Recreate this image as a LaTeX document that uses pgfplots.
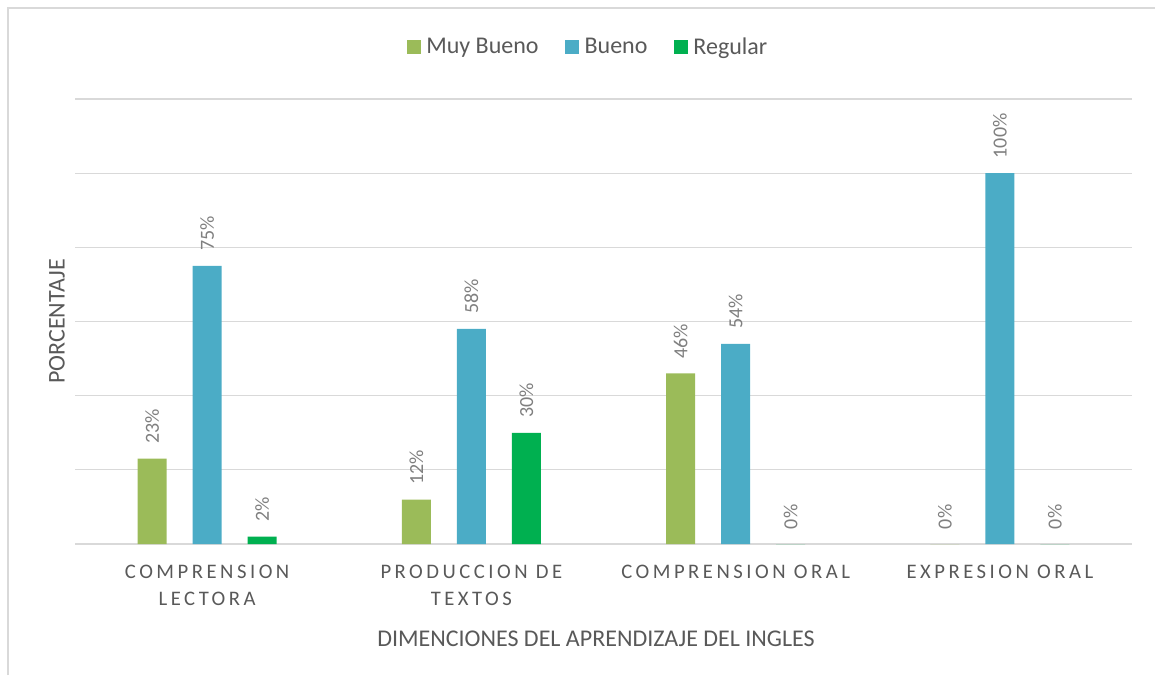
\documentclass[border=0pt]{standalone}
\usepackage{fontspec}
\setmainfont{Carlito}
\newfontfamily\catfont[LetterSpace=17]{Carlito}
\usepackage{pgfplots}
\pgfplotsset{compat=1.18}
\definecolor{muyb}{HTML}{9BBB59}
\definecolor{bueno}{HTML}{4BACC6}
\definecolor{regular}{HTML}{00B050}
\definecolor{txt}{HTML}{595959}
\definecolor{gridc}{HTML}{D9D9D9}
\definecolor{lbl}{HTML}{7F7F7F}
\begin{document}
\begin{tikzpicture}
\useasboundingbox (0,0) rectangle (866.25pt,506.25pt);
\draw[gridc, line width=1.1pt] (6pt,0) -- (6pt,500.25pt) -- (866.25pt,500.25pt);
\begin{axis}[
  at={(56.25pt,98.25pt)}, anchor=south west,
  scale only axis, width=792.75pt, height=333.75pt,
  /pgf/number format/assume math mode=true,
  ybar=19.5pt, bar width=21.75pt,
  ymin=0, ymax=120, ytick={0,20,...,120}, yticklabels={},
  ymajorgrids, grid style={gridc, line width=0.9pt},
  axis line style={draw=none}, major tick length=0pt,
  xmin=-0.5, xmax=3.5, xtick={0,1,2,3},
  xticklabels={{COMPRENSION\\LECTORA},{PRODUCCION DE\\TEXTOS},{COMPRENSION ORAL},{EXPRESION ORAL}},
  xticklabel style={font=\catfont\fontsize{15.5}{20.25}\selectfont, text=txt, align=center, yshift=-12pt},
  xlabel={DIMENCIONES DEL APRENDIZAJE DEL INGLES},
  xlabel style={at={(axis description cs:0.4929,-0.2135)}, anchor=center, font=\fontsize{18}{22}\selectfont, text=txt},
  ylabel={PORCENTAJE},
  ylabel style={at={(axis description cs:-0.01703,0.5)}, anchor=center, rotate=0, font=\fontsize{18}{22}\selectfont, text=txt},
  nodes near coords={\pgfmathprintnumber{\pgfplotspointmeta}\%},
  every node near coord/.append style={rotate=90, anchor=west, font=\fontsize{15}{18}\selectfont, text=lbl, inner xsep=11pt},
  legend columns=-1,
  legend style={at={(axis description cs:0.4858,1.117)}, anchor=center, draw=none, fill=none, font=\fontsize{18}{22}\selectfont, text=txt,
    /tikz/every odd column/.append style={column sep=2pt},
    /tikz/every even column/.append style={column sep=18pt}},
  legend image code/.code={\fill[#1] (0pt,-5.5pt) rectangle (10.5pt,5pt);},
]
\addplot[fill=muyb, draw=none] coordinates {(0,23) (1,12) (2,46) (3,0)};
\addplot[fill=bueno, draw=none] coordinates {(0,75) (1,58) (2,54) (3,100)};
\addplot[fill=regular, draw=none] coordinates {(0,2) (1,30) (2,0) (3,0)};
\legend{Muy Bueno, Bueno, Regular}
\end{axis}
\end{tikzpicture}
\end{document}
